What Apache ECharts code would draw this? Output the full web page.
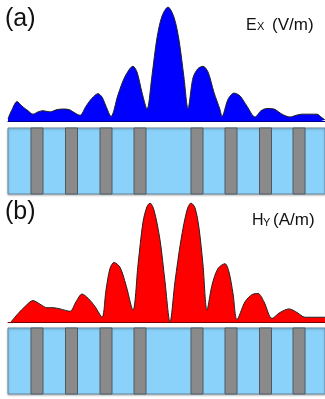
<!DOCTYPE html>
<html>
<head>
<meta charset="utf-8">
<script src="https://cdn.jsdelivr.net/npm/echarts@6/dist/echarts.min.js"></script>
<style>
  html, body { margin: 0; padding: 0; background: #fff; }
  #chart { width: 325px; height: 399px; }
</style>
</head>
<body>
<div id="chart"></div>
<script>
// position along the crystal (arbitrary units) and normalised field amplitude
const exPos = [0, 4, 9, 14, 20, 25, 30, 35, 42, 49, 55, 61, 67, 72, 78, 84, 90, 94, 98, 103, 110, 117, 125, 129, 134, 139, 144, 149, 154, 160, 166, 171, 176, 180, 185, 190, 195, 200, 206, 212, 214, 220, 226, 232, 239, 247, 253, 259, 266, 274, 282, 288, 294, 302, 309, 313, 317];
const exVal = [0.02, 0.10, 0.17, 0.13, 0.09, 0.06, 0.08, 0.09, 0.08, 0.10, 0.105, 0.10, 0.07, 0.05, 0.13, 0.20, 0.24, 0.21, 0.13, 0.04, 0.23, 0.39, 0.48, 0.43, 0.25, 0.105, 0.40, 0.73, 0.92, 1.0, 0.91, 0.71, 0.38, 0.11, 0.38, 0.46, 0.48, 0.43, 0.25, 0.10, 0.04, 0.19, 0.245, 0.22, 0.13, 0.035, 0.09, 0.11, 0.105, 0.06, 0.035, 0.05, 0.06, 0.06, 0.06, 0.035, 0.01];

const hyPos = [3, 10, 17, 25, 32, 39, 45, 52, 62, 68, 74, 80, 87, 94, 98, 102, 106, 112, 118, 125, 130, 135, 139, 142, 146, 152, 157, 162, 167, 173, 179, 183, 187, 191, 195, 199, 204, 210, 217, 221, 225, 229, 237, 244, 250, 256, 264, 272, 281, 289, 297, 317];
const hyVal = [0, 0.07, 0.13, 0.18, 0.15, 0.12, 0.12, 0.11, 0.09, 0.17, 0.235, 0.20, 0.13, 0.04, 0.27, 0.45, 0.50, 0.46, 0.31, 0.10, 0.48, 0.84, 0.97, 1.0, 0.94, 0.69, 0.34, 0.0, 0.34, 0.69, 0.94, 1.0, 0.96, 0.79, 0.48, 0.10, 0.31, 0.45, 0.49, 0.42, 0.24, 0.02, 0.17, 0.23, 0.24, 0.17, 0.03, 0.08, 0.11, 0.08, 0.04, 0.04];

// photonic crystal: centres of the dielectric rods, defect in the middle
const rodCenters = [29, 63.5, 98, 132, 189, 223, 257.5, 291];
const crystalSpan = [0, 317];

const ROD_HALF = 6;

function pairs(xs, ys) {
    return xs.map((x, i) => [x, ys[i]]);
}

function crystalAreas() {
    return rodCenters.map(c => [
        { xAxis: c - ROD_HALF },
        { xAxis: c + ROD_HALF }
    ]);
}

const chart = echarts.init(document.getElementById('chart'));

const grids = [
    { left: 8, width: 317, top: 7, height: 114 },    // (a) field
    { left: 8, width: 317, top: 128, height: 66 },   // (a) crystal
    { left: 8, width: 317, top: 203, height: 119 },  // (b) field
    { left: 8, width: 317, top: 328, height: 66 }    // (b) crystal
];

const baseColors = ['#00008b', null, '#7a0000', null];

const xAxes = grids.map((g, i) => ({
    type: 'value', gridIndex: i, min: crystalSpan[0], max: crystalSpan[1],
    axisLine: { show: baseColors[i] !== null, onZero: false, lineStyle: { color: baseColors[i] || '#000', width: 1 } },
    axisTick: { show: false }, axisLabel: { show: false }, splitLine: { show: false }
}));
const yAxes = grids.map((g, i) => ({
    type: 'value', gridIndex: i, min: 0, max: 1,
    axisLine: { show: false }, axisTick: { show: false }, axisLabel: { show: false }, splitLine: { show: false }
}));

function crystalSeries(idx) {
    return [
        {
            type: 'line', xAxisIndex: idx, yAxisIndex: idx, data: [], silent: true, z: 1,
            markArea: {
                silent: true,
                itemStyle: { color: '#8ad2fa', borderColor: '#6a8aa0', borderWidth: 1, shadowColor: 'rgba(0,0,0,0.25)', shadowBlur: 2, shadowOffsetY: 1 },
                data: [[{ xAxis: crystalSpan[0] }, { xAxis: crystalSpan[1] }]]
            }
        },
        {
            type: 'line', xAxisIndex: idx, yAxisIndex: idx, data: [], silent: true, z: 2,
            markArea: {
                silent: true,
                itemStyle: { color: '#8a8a8a', borderColor: '#4f5a60', borderWidth: 1 },
                data: crystalAreas()
            }
        }
    ];
}

function fieldSeries(idx, xs, ys, fill) {
    return {
        type: 'line', xAxisIndex: idx, yAxisIndex: idx,
        data: pairs(xs, ys), smooth: 0.3, symbol: 'none', silent: true,
        lineStyle: { color: '#222', width: 1 },
        areaStyle: { color: fill, opacity: 1 }
    };
}

const labelFont = '"Liberation Sans", Arial, sans-serif';

function txt(text, x, y, size) {
    return { type: 'text', left: x, top: y, style: { text: text, fontSize: size, fontFamily: labelFont, fill: '#111' } };
}

chart.setOption({
    animation: false,
    backgroundColor: '#fff',
    grid: grids,
    xAxis: xAxes,
    yAxis: yAxes,
    series: [
        fieldSeries(0, exPos, exVal, '#0000ff'),
        ...crystalSeries(1),
        fieldSeries(2, hyPos, hyVal, '#ff0000'),
        ...crystalSeries(3)
    ],
    graphic: [
        txt('(a)', 5, 7, 25),
        txt('E', 246, 18, 16),
        txt('X', 257, 21, 11),
        txt('(V/m)', 272, 17, 17),
        txt('(b)', 5, 200, 25),
        txt('H', 252, 213, 16),
        txt('Y', 263, 217, 11),
        txt('(A/m)', 273, 212, 17)
    ]
});
</script>
</body>
</html>
